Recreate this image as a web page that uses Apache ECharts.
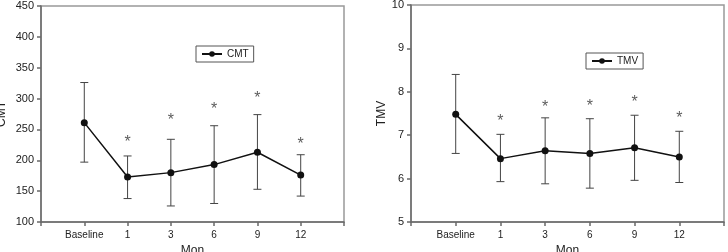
<!DOCTYPE html>
<html>
<head>
<meta charset="utf-8">
<script src="https://cdn.jsdelivr.net/npm/echarts@6/dist/echarts.min.js"></script>
<style>
  html, body { margin: 0; padding: 0; background: #fff; }
  #main { width: 728px; height: 252px; }
</style>
</head>
<body>
<div id="main"></div>
<script>
// time points (blank slots at both ends pad the axis)
var months = ['Baseline', '1', '3', '6', '9', '12'];
var slots = [''].concat(months, ['']);

// CMT, mean and SD bar ends
var cmtMean  = [261, 173, 180, 193, 213, 176];
var cmtUpper = [326, 207, 234, 256, 274, 209];
var cmtLower = [197, 138, 126, 130, 153, 142];
// where the * marks sit (from month 1 on)
var cmtStar  = [null, 235, 270, 289, 307, 232];

// TMV
var tmvMean  = [7.48, 6.46, 6.64, 6.58, 6.71, 6.50];
var tmvUpper = [8.40, 7.02, 7.40, 7.38, 7.46, 7.09];
var tmvLower = [6.58, 5.93, 5.88, 5.78, 5.96, 5.91];
var tmvStar  = [null, 7.41, 7.73, 7.76, 7.85, 7.48];

var FONT = 'Liberation Sans, Arial, sans-serif';
var AXIS = '#6a6a6a';

function pairs(arr) {
    var out = [];
    arr.forEach(function (v, i) {
        if (v != null) out.push([i + 1, v]);
    });
    return out;
}

function bars(lo, hi) {
    return lo.map(function (v, i) { return [i + 1, v, hi[i]]; });
}

function drawBar(params, api) {
    var x = api.value(0);
    var lo = api.coord([x, api.value(1)]);
    var hi = api.coord([x, api.value(2)]);
    var w = 4;
    var st = { stroke: '#444', lineWidth: 1 };
    return {
        type: 'group',
        children: [
            { type: 'line', shape: { x1: lo[0], y1: lo[1], x2: hi[0], y2: hi[1] }, style: st },
            { type: 'line', shape: { x1: lo[0] - w, y1: lo[1], x2: lo[0] + w, y2: lo[1] }, style: st },
            { type: 'line', shape: { x1: hi[0] - w, y1: hi[1], x2: hi[0] + w, y2: hi[1] }, style: st }
        ]
    };
}

function xAxisFor(gi) {
    return {
        gridIndex: gi,
        type: 'category',
        data: slots,
        boundaryGap: false,
        name: 'Mon',
        nameLocation: 'middle',
        nameGap: 20,
        nameTextStyle: { fontFamily: FONT, fontSize: 12, color: '#222' },
        axisLine: { lineStyle: { color: AXIS, width: 1.5 } },
        axisTick: { inside: false, length: 4, interval: 0, lineStyle: { color: AXIS, width: 1.5 } },
        axisLabel: { interval: 0, fontFamily: FONT, fontSize: 10, color: '#222', margin: 8 },
        splitLine: { show: false }
    };
}

function yAxisFor(gi, name, min, max, step, gap) {
    return {
        gridIndex: gi,
        type: 'value',
        min: min, max: max, interval: step,
        name: name,
        nameLocation: 'middle',
        nameGap: gap,
        nameTextStyle: { fontFamily: FONT, fontSize: 12, color: '#222' },
        axisLine: { show: true, lineStyle: { color: AXIS, width: 1.5 } },
        axisTick: { show: true, inside: false, length: 4, lineStyle: { color: AXIS, width: 1.5 } },
        axisLabel: { fontFamily: FONT, fontSize: 11, color: '#222', margin: 7 },
        splitLine: { show: false }
    };
}

function seriesFor(gi, name, mean, lo, hi, star) {
    return [
        {
            type: 'custom', xAxisIndex: gi, yAxisIndex: gi,
            renderItem: drawBar,
            encode: { x: 0, y: [1, 2] },
            data: bars(lo, hi), z: 2, silent: true
        },
        {
            name: name, type: 'line', xAxisIndex: gi, yAxisIndex: gi,
            data: pairs(mean),
            symbol: 'circle', symbolSize: 7,
            lineStyle: { color: '#111', width: 1.5 },
            itemStyle: { color: '#111' },
            z: 3
        },
        {
            type: 'scatter', xAxisIndex: gi, yAxisIndex: gi,
            data: pairs(star), symbolSize: 0,
            label: { show: true, formatter: '*', position: 'inside', offset: [0, 4],
                     fontFamily: FONT, fontSize: 16, color: '#333' },
            silent: true
        }
    ];
}

var chart = echarts.init(document.getElementById('main'));

var option = {
    backgroundColor: '#fff',
    animation: false,
    grid: [
        { left: 41, right: 384, top: 6, bottom: 30, show: true, borderColor: '#999', borderWidth: 1.5,
          outerBoundsMode: 'none', containLabel: false },
        { left: 411, right: 4, top: 5, bottom: 30, show: true, borderColor: '#999', borderWidth: 1.5,
          outerBoundsMode: 'none', containLabel: false }
    ],
    legend: [
        { data: ['CMT'], left: 196, top: 46, orient: 'horizontal',
          borderColor: '#555', borderWidth: 1, padding: [3, 5],
          itemWidth: 20, itemHeight: 7, itemGap: 5, selectedMode: false,
          textStyle: { fontFamily: FONT, fontSize: 10, color: '#222' } },
        { data: ['TMV'], left: 586, top: 53, orient: 'horizontal',
          borderColor: '#555', borderWidth: 1, padding: [3, 5],
          itemWidth: 20, itemHeight: 7, itemGap: 5, selectedMode: false,
          textStyle: { fontFamily: FONT, fontSize: 10, color: '#222' } }
    ],
    xAxis: [xAxisFor(0), xAxisFor(1)],
    yAxis: [
        yAxisFor(0, 'CMT', 100, 450, 50, 33),
        yAxisFor(1, 'TMV', 5, 10, 1, 20)
    ],
    series: seriesFor(0, 'CMT', cmtMean, cmtLower, cmtUpper, cmtStar)
        .concat(seriesFor(1, 'TMV', tmvMean, tmvLower, tmvUpper, tmvStar))
};

chart.setOption(option);
</script>
</body>
</html>
